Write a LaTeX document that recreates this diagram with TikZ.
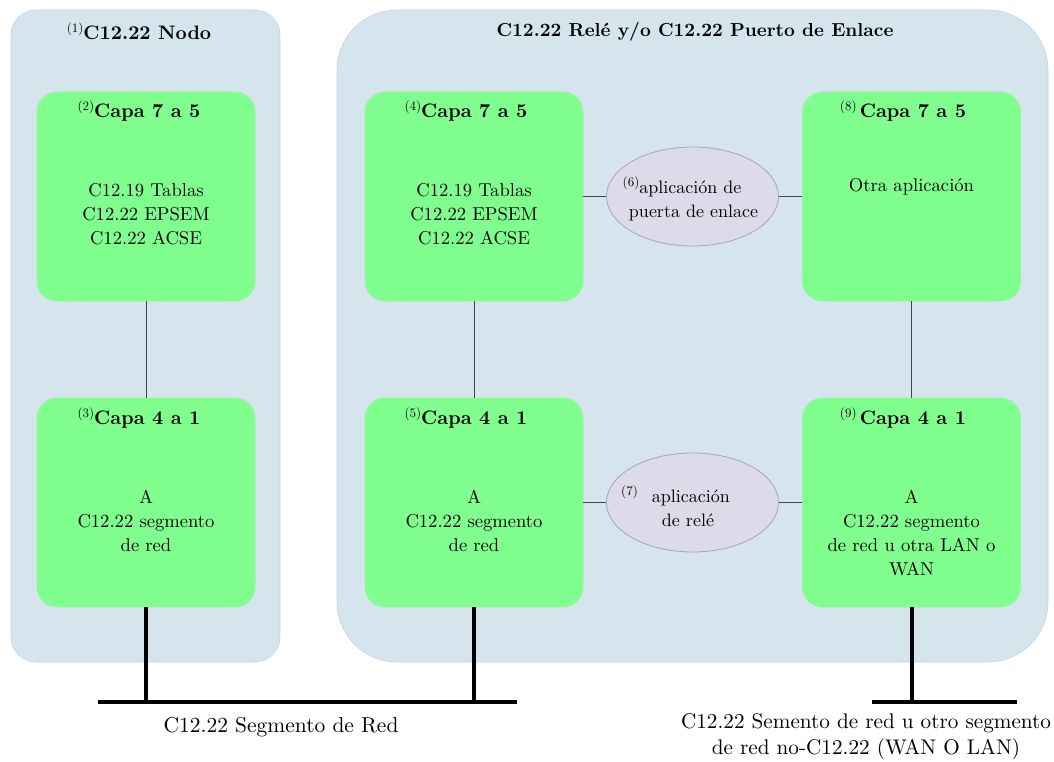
\documentclass[tikz,border=0pt]{standalone}
\usepackage{fontspec}
\setmainfont{lmroman10}[
  Extension=.otf,
  UprightFont=*-regular,
  BoldFont=*-bold,
  ItalicFont=*-italic,
  BoldItalicFont=*-bolditalic]
\usetikzlibrary{shapes.geometric}

\definecolor{panel}{RGB}{213,228,237}
\definecolor{paneledge}{RGB}{196,212,222}
\definecolor{layer}{RGB}{128,255,142}
\definecolor{layeredge}{RGB}{150,245,160}
\definecolor{appfill}{RGB}{221,219,233}
\definecolor{appedge}{RGB}{168,163,192}
\definecolor{link}{RGB}{70,70,70}

% small raised reference number
\newcommand{\refno}[1]{\raisebox{7pt}{\fontsize{13}{13}\selectfont\mdseries(#1)}}

\begin{document}
\begin{tikzpicture}[x=1pt,y=-1pt,
  panelbox/.style={rectangle, fill=panel, draw=paneledge, line width=0.6pt,
    rounded corners=#1, inner sep=0pt},
  layerbox/.style={rectangle, fill=layer, draw=layeredge, line width=0.6pt,
    rounded corners=20pt, minimum width=218pt, minimum height=209pt, inner sep=0pt},
  appbox/.style={ellipse, fill=appfill, draw=appedge, line width=0.8pt,
    minimum width=172pt, minimum height=99pt, inner sep=0pt},
  paneltitle/.style={font=\fontsize{19.5}{24}\selectfont\bfseries, inner sep=0pt},
  layertitle/.style={font=\fontsize{19.5}{24}\selectfont\bfseries, inner sep=0pt},
  bodytext/.style={font=\fontsize{18.6}{24}\selectfont, align=center, inner sep=0pt},
  apptext/.style={font=\fontsize{18}{24.5}\selectfont, align=center, inner sep=0pt},
  bustext/.style={font=\fontsize{21.2}{26}\selectfont, align=center, inner sep=0pt},
  link/.style={draw=link, line width=1pt},
  bus/.style={draw=black, line width=4pt}
]
\useasboundingbox (0,0) rectangle (1054,762);

% containers
\node[panelbox=25pt, minimum width=269pt, minimum height=652pt] (nodo) at (145.5,336) {};
\node[panelbox=60pt, minimum width=711pt, minimum height=652pt] (rele) at (692.5,336) {};
\node[paneltitle] (nodot) at (139,31) {\refno{1}C12.22 Nodo};
\node[paneltitle, font=\fontsize{18.8}{24}\selectfont\bfseries] (relet) at (695,32)
  {C12.22 Relé y/o C12.22 Puerto de Enlace};

% layer boxes
\node[layerbox] (l2) at (146,196.5) {};
\node[layerbox] (l3) at (146,502.5) {};
\node[layerbox] (l4) at (474,196.5) {};
\node[layerbox] (l5) at (474,502.5) {};
\node[layerbox] (l8) at (911.5,196.5) {};
\node[layerbox] (l9) at (911.5,502.5) {};

\node[layertitle] (l2t) at (139,111) {\refno{2}Capa 7 a 5};
\node[layertitle] (l3t) at (139,418) {\refno{3}Capa 4 a 1};
\node[layertitle] (l4t) at (466,111) {\refno{4}Capa 7 a 5};
\node[layertitle] (l5t) at (466,418) {\refno{5}Capa 4 a 1};
\node[layertitle] (l8t) at (903,111) {\refno{8}\,Capa 7 a 5};
\node[layertitle] (l9t) at (903,418) {\refno{9}\,Capa 4 a 1};

\node[bodytext] (l2b) at (146,214) {C12.19 Tablas\\C12.22 EPSEM\\C12.22 ACSE};
\node[bodytext] (l4b) at (474,214) {C12.19 Tablas\\C12.22 EPSEM\\C12.22 ACSE};
\node[bodytext] (l8b) at (911.5,187) {Otra aplicación};
\node[bodytext] (l3b) at (146,521) {A\\C12.22 segmento\\de red};
\node[bodytext] (l5b) at (474,521) {A\\C12.22 segmento\\de red};
\node[bodytext] (l9b) at (911.5,533) {A\\C12.22 segmento\\de red u otra LAN o\\WAN};

% gateway and relay applications
\node[appbox] (e6) at (692.5,196.5) {};
\node[appbox] (e7) at (692.5,502.5) {};
\node[apptext] (e6t) at (693.5,199)
  {\refno{6}aplicación de\kern23pt\\puerta de enlace};
\node[apptext] (e7t) at (688,506)
  {\refno{7}\hspace{14pt}aplicación\kern25pt\\de relé};

% internal links
\draw[link] (l2.south) -- (l3.north);
\draw[link] (l4.south) -- (l5.north);
\draw[link] (l8.south) -- (l9.north);
\draw[link] (l4.east) -- (e6.west);
\draw[link] (e6.east) -- (l8.west);
\draw[link] (l5.east) -- (e7.west);
\draw[link] (e7.east) -- (l9.west);

% network segments
\coordinate (busLa) at (98,702);
\coordinate (busLb) at (517,702);
\coordinate (busRa) at (872,702);
\coordinate (busRb) at (1017,702);
\draw[bus] (busLa) -- (busLb);
\draw[bus] (busRa) -- (busRb);
\draw[bus] (l3.south) -- (l3.south |- busLa);
\draw[bus] (l5.south) -- (l5.south |- busLa);
\draw[bus] (l9.south) -- (l9.south |- busRa);

\node[bustext, font=\fontsize{21.5}{26}\selectfont] (busLt) at (281,727) {C12.22 Segmento de Red};
\node[bustext] (busRt) at (866,737) {C12.22 Semento de red u otro segmento\\de red no-C12.22 (WAN O LAN)};
\end{tikzpicture}
\end{document}
